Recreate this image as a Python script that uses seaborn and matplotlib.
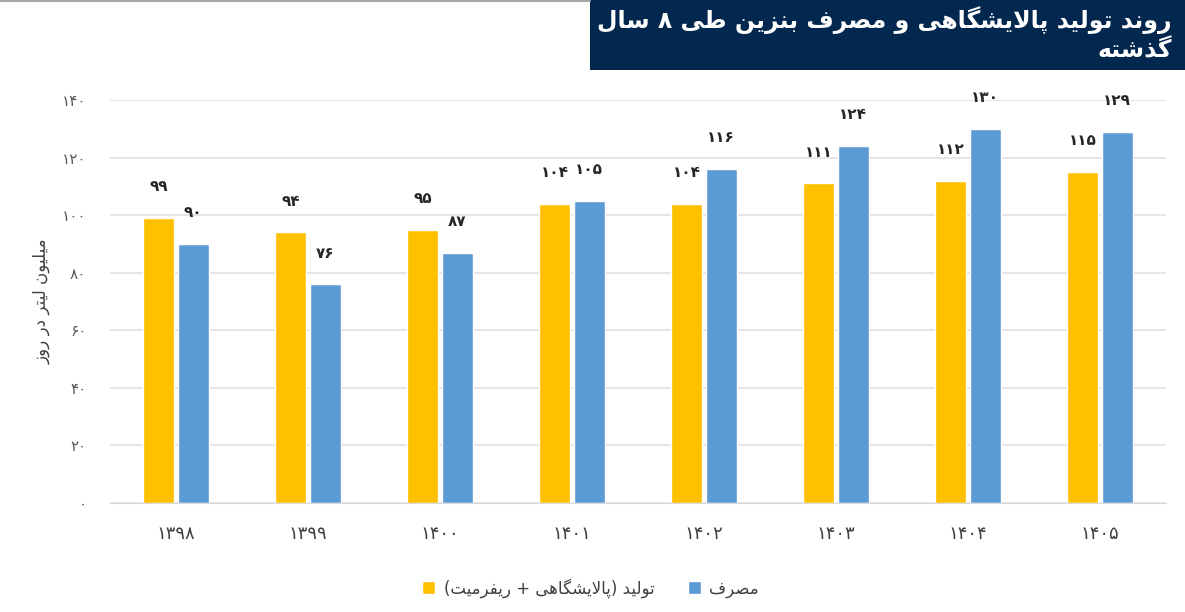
import re
import numpy as np
import pandas as pd
import seaborn as sns
import matplotlib
matplotlib.use('Agg')
import matplotlib.pyplot as plt
from matplotlib.patches import Rectangle

# data (million litres per day)
years = ['1398', '1399', '1400', '1401', '1402', '1403', '1404', '1405']
production = [99, 94, 95, 104, 104, 111, 112, 115]
consumption = [90, 76, 87, 105, 116, 124, 130, 129]
series_names = ['تولید (پالایشگاهی + ریفرمیت)', 'مصرف']
y_ticks = [0, 20, 40, 60, 80, 100, 120, 140]

title_line1 = 'روند تولید پالایشگاهی و مصرف بنزین طی ۸ سال'
title_line2 = 'گذشته'
y_label = 'میلیون لیتر در روز'

# --- minimal Persian shaping (matplotlib has no text shaping of its own) ---
FORMS = {
    'ا': ('\uFE8D', '\uFE8E'), 'ب': ('\uFE8F', '\uFE90', '\uFE91', '\uFE92'),
    'پ': ('\uFB56', '\uFB57', '\uFB58', '\uFB59'), 'ت': ('\uFE95', '\uFE96', '\uFE97', '\uFE98'),
    'د': ('\uFEA9', '\uFEAA'), 'ذ': ('\uFEAB', '\uFEAC'), 'ر': ('\uFEAD', '\uFEAE'),
    'ز': ('\uFEAF', '\uFEB0'), 'س': ('\uFEB1', '\uFEB2', '\uFEB3', '\uFEB4'),
    'ش': ('\uFEB5', '\uFEB6', '\uFEB7', '\uFEB8'), 'ص': ('\uFEB9', '\uFEBA', '\uFEBB', '\uFEBC'),
    'ط': ('\uFEC1', '\uFEC2', '\uFEC3', '\uFEC4'), 'ف': ('\uFED1', '\uFED2', '\uFED3', '\uFED4'),
    'گ': ('\uFB92', '\uFB93', '\uFB94', '\uFB95'), 'ل': ('\uFEDD', '\uFEDE', '\uFEDF', '\uFEE0'),
    'م': ('\uFEE1', '\uFEE2', '\uFEE3', '\uFEE4'), 'ن': ('\uFEE5', '\uFEE6', '\uFEE7', '\uFEE8'),
    'ه': ('\uFEE9', '\uFEEA', '\uFEEB', '\uFEEC'), 'و': ('\uFEED', '\uFEEE'),
    'ی': ('\uFBFC', '\uFBFD', '\uFBFE', '\uFBFF'),
}


def shape(text):
    out = []
    chars = list(text)
    i = 0
    prev_joins = False
    while i < len(chars):
        c = chars[i]
        if c not in FORMS:
            out.append(c)
            prev_joins = False
            i += 1
            continue
        nxt = chars[i + 1] if i + 1 < len(chars) else ''
        if c == 'ل' and nxt == 'ا':
            out.append('\uFEFC' if prev_joins else '\uFEFB')
            prev_joins = False
            i += 2
            continue
        f = FORMS[c]
        dual = len(f) == 4
        next_joins = dual and nxt in FORMS
        if prev_joins and next_joins:
            out.append(f[3])
        elif prev_joins:
            out.append(f[1])
        elif next_joins:
            out.append(f[2])
        else:
            out.append(f[0])
        prev_joins = dual
        i += 1
    s = ''.join(out)[::-1]
    s = s.translate(str.maketrans('()', ')('))
    # keep digit runs left-to-right
    return re.sub('[0-9\u06F0-\u06F9]+', lambda m: m.group(0)[::-1], s)


def fa_num(v):
    return str(v).translate(str.maketrans('0123456789', '۰۱۲۳۴۵۶۷۸۹'))


sns.set_style('white')
plt.rcParams['font.family'] = ['DejaVu Sans']

df = pd.DataFrame({
    'year': years * 2,
    'value': production + consumption,
    'series': [shape(series_names[0])] * len(years) + [shape(series_names[1])] * len(years),
})

fig = plt.figure(figsize=(11.85, 6.12), dpi=100)
ax = fig.add_axes([110 / 1185, 1 - 503 / 612, (1166 - 110) / 1185, (503 - 100) / 612])

sns.barplot(data=df, x='year', y='value', hue='series', saturation=1,
            palette=['#FFC000', '#5B9BD5'], width=0.52, gap=0.1, ax=ax)

for cont in ax.containers:
    ax.bar_label(cont, labels=[fa_num(int(v)) for v in cont.datavalues],
                 padding=17, fontsize=11, fontweight='bold', color='#262626')

ax.set_ylim(0, 140)
ax.set_xlim(-0.5, len(years) - 0.5)
ax.set_yticks(y_ticks)
ax.set_yticklabels([fa_num(v) for v in y_ticks], fontsize=11, color='#595959')
ax.set_xticks(range(len(years)))
ax.set_xticklabels([fa_num(y) for y in years], fontsize=13, color='#404040')
ax.set_xticks(np.arange(-0.5, len(years)), minor=True)
ax.tick_params(axis='x', which='major', length=0, pad=16)
ax.tick_params(axis='x', which='minor', length=8, color='#d9d9d9', width=1)
ax.tick_params(axis='y', length=0, pad=17)
ax.yaxis.grid(True, color='#e0e0e0', linewidth=1.2)
ax.set_axisbelow(True)
for side in ['top', 'right', 'left']:
    ax.spines[side].set_visible(False)
ax.spines['bottom'].set_color('#d9d9d9')
ax.set_xlabel('')
ax.set_ylabel(shape(y_label), fontsize=12, color='#404040', labelpad=8)

leg = ax.legend(loc='upper center', bbox_to_anchor=(0.455, -0.15), ncol=2, frameon=False,
                fontsize=12, handlelength=0.8, handleheight=0.8, columnspacing=2.0, handletextpad=0.5)
for t in leg.get_texts():
    t.set_color('#404040')

# title box
fig.add_artist(Rectangle((590 / 1185, 1 - 70 / 612), 595 / 1185, 70 / 612,
                         transform=fig.transFigure, facecolor='#03284f', edgecolor='none'))
fig.add_artist(plt.Line2D([0, 590 / 1185], [1 - 1 / 612, 1 - 1 / 612], transform=fig.transFigure,
                          color='#a6a6a6', linewidth=1.5))
fig.text(1172 / 1185, 1 - 20 / 612, shape(title_line1), ha='right', va='center',
         fontsize=17, fontweight='bold', color='white')
fig.text(1172 / 1185, 1 - 50 / 612, shape(title_line2), ha='right', va='center',
         fontsize=17, fontweight='bold', color='white')

fig.savefig('out.png', dpi=100)
